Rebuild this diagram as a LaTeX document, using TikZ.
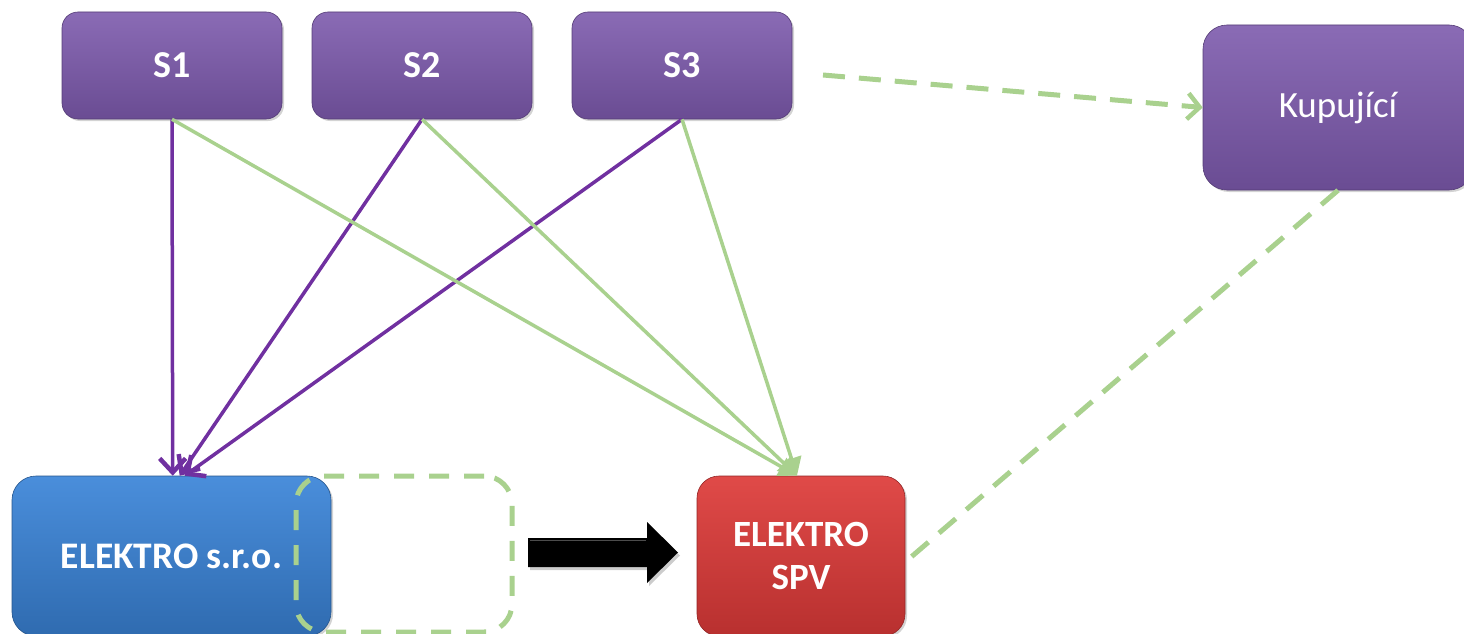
\documentclass[tikz,border=0pt]{standalone}
\usepackage{fontspec}
\setmainfont{Carlito}
\usetikzlibrary{arrows.meta,shadows,calc}
\definecolor{purpTop}{HTML}{8A6BB5}
\definecolor{purpBot}{HTML}{6A4C93}
\definecolor{purpLine}{HTML}{7030A0}
\definecolor{grn}{HTML}{A9D18E}
\definecolor{blueTop}{HTML}{4A8EDB}
\definecolor{blueBot}{HTML}{2F6BB0}
\definecolor{redTop}{HTML}{E04A48}
\definecolor{redBot}{HTML}{B8302F}
\tikzset{
  sbox/.style={rounded corners=16pt, top color=purpTop, bottom color=purpBot,
    draw=purpBot!80!black, line width=0.6pt, minimum width=220pt, minimum height=107pt,
    text=white, font=\fontsize{38}{42}\selectfont\bfseries, inner sep=0pt,
    drop shadow={shadow xshift=2pt, shadow yshift=-2pt, opacity=0.35}},
  kbox/.style={sbox, rounded corners=24pt, minimum width=270pt, minimum height=165pt,
    font=\fontsize{37}{42}\selectfont},
  bbox/.style={sbox, rounded corners=24pt, top color=blueTop, bottom color=blueBot,
    draw=blueBot!80!black, minimum width=319pt, minimum height=160pt,
    font=\fontsize{37.5}{42}\selectfont\bfseries},
  rbox/.style={sbox, rounded corners=22pt, top color=redTop, bottom color=redBot,
    draw=redBot!80!black, minimum width=208pt, minimum height=160pt, align=center,
    font=\fontsize{37}{43}\selectfont\bfseries},
  dbox/.style={draw=grn, line width=5pt, dash pattern=on 20pt off 15pt, rounded corners=28pt,
    minimum width=216pt, minimum height=156pt, inner sep=0pt},
  pline/.style={draw=purpLine, line width=3.5pt, -{Straight Barb[length=14pt,width=26pt,line width=4.5pt]}},
  gline/.style={draw=grn, line width=3.5pt, -{Triangle[length=18pt,width=20pt]}},
  gdash/.style={draw=grn, line width=5pt, dash pattern=on 22pt off 14pt},
}
\begin{document}
\begin{tikzpicture}[x=1pt,y=-1pt]
\useasboundingbox (0,0) rectangle (1464,634);
\node[sbox] (s1) at (172,65.5) {\raisebox{-3pt}{S1}};
\node[sbox] (s2) at (422,65.5) {\raisebox{-3pt}{S2}};
\node[sbox] (s3) at (682,65.5) {\raisebox{-3pt}{S3}};
\node[kbox] (kup) at (1338,107.5) {Kupující};
\node[bbox] (el) at (171.5,556) {ELEKTRO s.r.o.};
\node[rbox] (spv) at (801,556) {ELEKTRO\\SPV};
\node[dbox] (dr) at (404,554) {};
% block arrow
\fill[black, drop shadow={shadow xshift=2pt, shadow yshift=-3pt, opacity=0.4}]
  (528,538) -- (647,538) -- (647,522) -- (678,552.5) -- (647,583) -- (647,567) -- (528,567) -- cycle;
\draw[gray!60!black, line width=1pt] (530,540) -- (646,540);
% purple arrows
\draw[pline] (s1.south) -- ([xshift=161pt]el.north west);
\draw[pline] (s2.south) -- ([xshift=168pt]el.north west);
\draw[pline] (s3.south) -- ([xshift=173pt]el.north west);
% green arrows
\draw[gline] (s1.south) -- ([xshift=-4pt]spv.north);
\draw[gline] (s2.south) -- ([xshift=-4pt]spv.north);
\draw[gline] (s3.south) -- ([xshift=-4pt]spv.north);
% dashed
\coordinate (ds) at (823,75);
\draw[gdash, -{Straight Barb[length=12pt,width=26pt,line width=4.5pt]}] (ds) -- (kup.west);
\draw[gdash] (kup.south) -- ([yshift=-6pt]spv.east);
\end{tikzpicture}
\end{document}
